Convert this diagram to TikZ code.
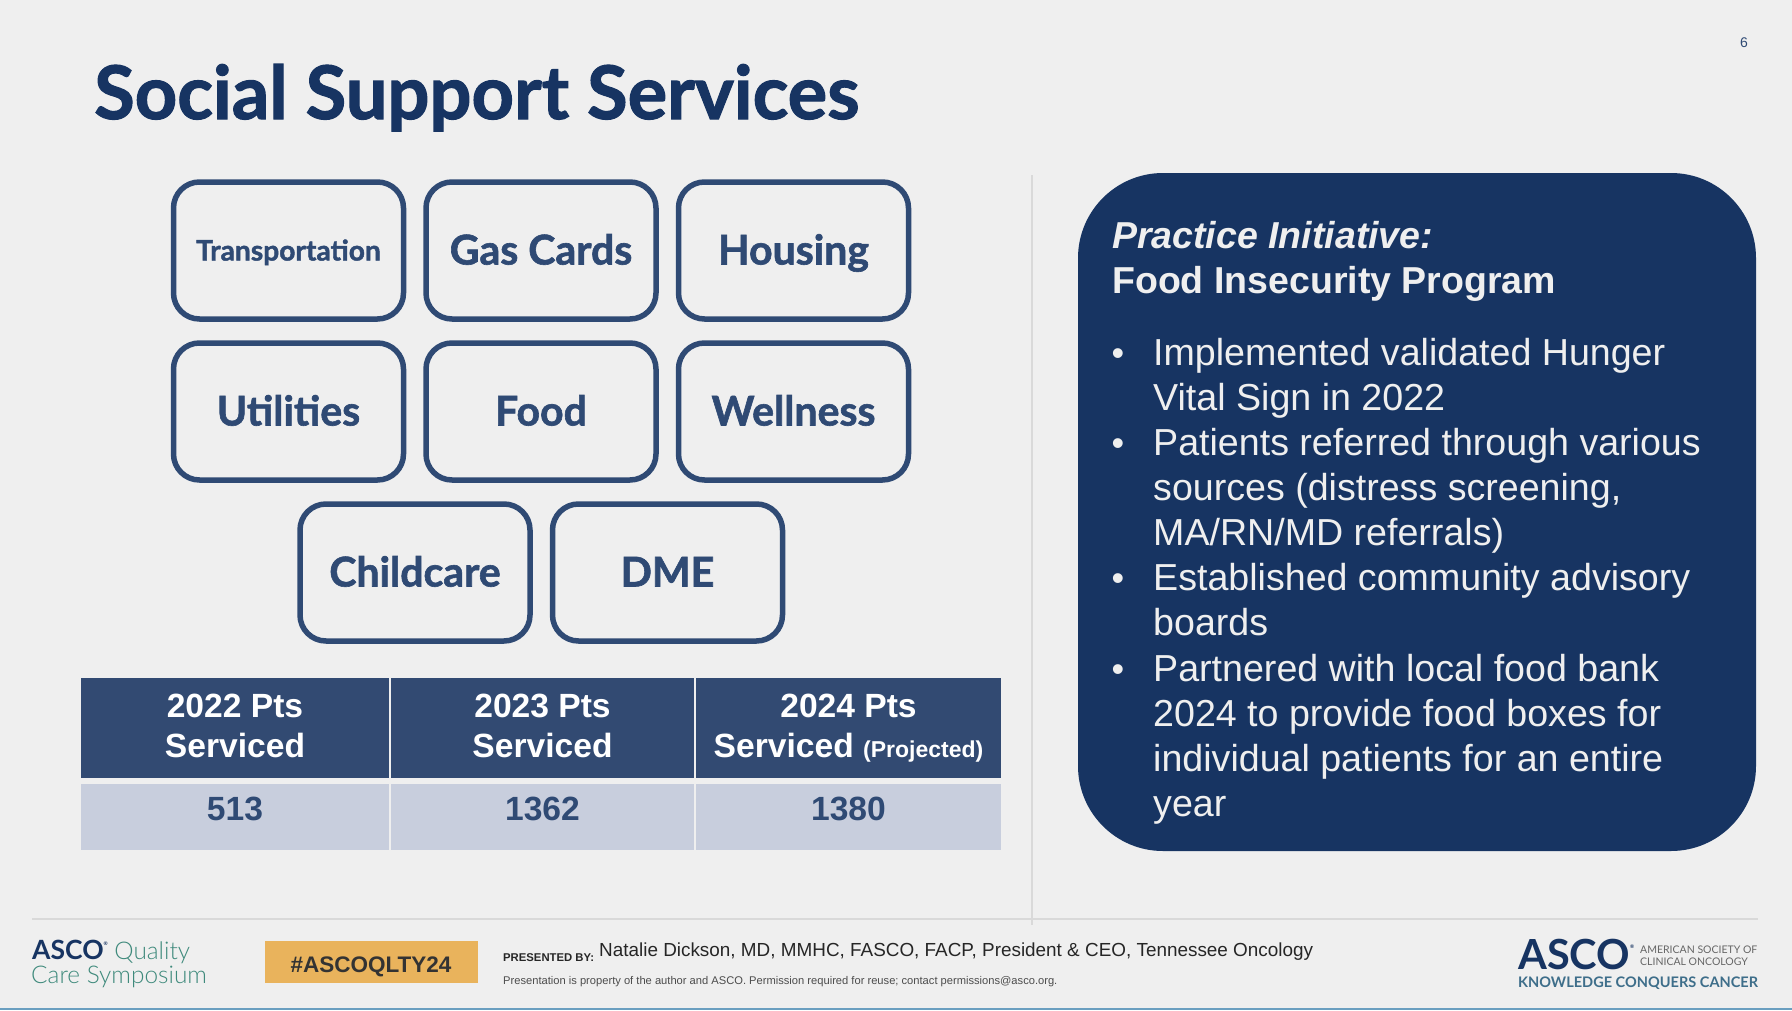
\documentclass[tikz,border=0pt]{standalone}
\usepackage{fontspec}
\setmainfont{Liberation Sans}
\newfontfamily\avenir{Lato}
\newfontfamily\avenirheavy{Lato}[BoldFeatures={FakeBold=1.5}]
\newfontfamily\avenirlight{Lato Light}
\definecolor{slidebg}{HTML}{EFEFEF}
\definecolor{navy}{HTML}{173462}
\definecolor{boxblue}{HTML}{2F4A74}
\definecolor{headblue}{HTML}{324A72}
\definecolor{rowgrey}{HTML}{C8CEDD}
\definecolor{rulegrey}{HTML}{D9D9D9}
\definecolor{tagorange}{HTML}{E9B35C}
\definecolor{asoteal}{HTML}{3F8A7C}
\definecolor{logoteal}{HTML}{3E6E8A}
\definecolor{barblue}{HTML}{6A9FC0}
\newcommand\headdepth{\rule[-5pt]{0pt}{1pt}}
\newcommand\regmark{\raisebox{0.5em}{\fontsize{5}{5}\selectfont ®}}
\tikzset{
  servicebox/.style={draw=boxblue,line width=5.5pt,rounded corners=26pt,minimum width=230pt,minimum height=137pt,inner sep=0pt,text=boxblue,text height=30pt,text depth=2pt,font=\avenirheavy\bfseries\fontsize{41}{41}\selectfont},
  headcell/.style={fill=headblue,minimum height=100pt,inner sep=0pt,text=white,align=center,font=\bfseries\fontsize{33.6}{40}\selectfont},
  datacell/.style={fill=rowgrey,minimum height=66pt,inner sep=0pt},
  datatext/.style={inner sep=0pt,text=boxblue,font=\bfseries\fontsize{33.6}{40}\selectfont},
  paneltext/.style={anchor=base west,inner sep=0pt,text=slidebg,font=\fontsize{37.6}{45}\selectfont},
  paneldot/.style={anchor=base,inner sep=0pt,text=slidebg,font=\fontsize{36}{45}\selectfont},
}
\begin{document}
\begin{tikzpicture}[x=1pt,y=-1pt]
  % Hintergrund
  \fill[slidebg] (0,0) rectangle (1792,1010);
  \useasboundingbox (0,0) rectangle (1792,1010);
  \fill[barblue] (0,1008) rectangle (1792,1010);
  % Linien
  \draw[rulegrey,line width=1.5pt] (1032,175) -- (1032,925);
  \draw[rulegrey,line width=1.5pt] (32,919) -- (1758,919);
  % Titel
  \node[anchor=base west,inner sep=0pt,text=navy,font=\avenirheavy\bfseries\fontsize{74}{74}\selectfont] (title) at (94,119) {Social Support Services};
  \node[inner sep=0pt,text=boxblue,font=\fontsize{14}{14}\selectfont] (pagenum) at (1744,43) {6};
  % Kaesten
  \node[servicebox,text height=22pt,font=\avenirheavy\bfseries\fontsize{28.2}{28}\selectfont] (transport) at (288.5,250.5) {Transportation};
  \node[servicebox] (gas) at (541,250.5) {Gas Cards};
  \node[servicebox] (housing) at (793.5,250.5) {Housing};
  \node[servicebox] (utilities) at (288.5,411.5) {Utilities};
  \node[servicebox] (food) at (541,411.5) {Food};
  \node[servicebox] (wellness) at (793.5,411.5) {Wellness};
  \node[servicebox] (childcare) at (415,572.5) {Childcare};
  \node[servicebox] (dme) at (667.5,572.5) {DME};
  % Tabelle
  \node[headcell,minimum width=308pt] (head22) at (235,728) {2022 Pts\\Serviced\headdepth};
  \node[headcell,minimum width=303pt] (head23) at (542.5,728) {2023 Pts\\Serviced\headdepth};
  \node[headcell,minimum width=305pt] (head24) at (848.5,728) {2024 Pts\\Serviced {\fontsize{23}{23}\selectfont (Projected)}\headdepth};
  \node[datacell,minimum width=308pt] (data22) at (235,817) {};
  \node[datacell,minimum width=303pt] (data23) at (542.5,817) {};
  \node[datacell,minimum width=305pt] (data24) at (848.5,817) {};
  \node[datatext] (val22) at (235,809) {513};
  \node[datatext] (val23) at (542.5,809) {1362};
  \node[datatext] (val24) at (848.5,809) {1380};
  % Feld rechts
  \fill[navy,rounded corners=85pt] (1078,173) rectangle (1756,851);
  \node[paneltext,font=\bfseries\itshape\fontsize{37.5}{45}\selectfont] (lead1) at (1112,248) {Practice Initiative:};
  \node[paneltext,font=\bfseries\fontsize{37.5}{45}\selectfont] (lead2) at (1112,293) {Food Insecurity Program};
  \node[paneldot] (dot1) at (1118,365.5) {•};
  \node[paneltext] (line1) at (1153,365.5) {Implemented validated Hunger};
  \node[paneltext] (line2) at (1153,410.5) {Vital Sign in 2022};
  \node[paneldot] (dot2) at (1118,455.5) {•};
  \node[paneltext] (line3) at (1153,455.5) {Patients referred through various};
  \node[paneltext] (line4) at (1153,500.5) {sources (distress screening,};
  \node[paneltext] (line5) at (1153,545.5) {MA/RN/MD referrals)};
  \node[paneldot] (dot3) at (1118,590.5) {•};
  \node[paneltext] (line6) at (1153,590.5) {Established community advisory};
  \node[paneltext] (line7) at (1153,635.5) {boards};
  \node[paneldot] (dot4) at (1118,681.5) {•};
  \node[paneltext] (line8) at (1153,681.5) {Partnered with local food bank};
  \node[paneltext] (line9) at (1153,726.5) {2024 to provide food boxes for};
  \node[paneltext] (line10) at (1153,771.5) {individual patients for an entire};
  \node[paneltext] (line11) at (1153,816.5) {year};
  % Fusszeile
  \node[anchor=base west,inner sep=0pt,font=\avenirlight\fontsize{24.4}{25}\selectfont] (qual1) at (32,959) {\textcolor{navy}{\avenir\bfseries\fontsize{26.5}{25}\selectfont ASCO\regmark}\textcolor{asoteal}{~Quality}};
  \node[anchor=base west,inner sep=0pt,text=asoteal,font=\avenirlight\fontsize{24.4}{25}\selectfont] (qual2) at (31,983) {Care Symposium};
  \node[fill=tagorange,minimum width=213pt,minimum height=42pt,inner sep=0pt,text=black!80,text height=20pt,text depth=0pt,font=\bfseries\fontsize{22.5}{23}\selectfont] (hashtag) at (371,962) {\#ASCOQLTY24};
  \node[anchor=base west,inner sep=0pt,text=black!85,font=\bfseries\fontsize{11.3}{11}\selectfont] (presby) at (503,961) {PRESENTED BY:};
  \node[anchor=base west,inner sep=0pt,text=black!85,font=\fontsize{18.9}{20}\selectfont] (speaker) at (599,956.5) {Natalie Dickson, MD, MMHC, FASCO, FACP, President \& CEO, Tennessee Oncology};
  \node[anchor=base west,inner sep=0pt,text=black!70,font=\fontsize{11.15}{12}\selectfont] (notice) at (503,984) {Presentation is property of the author and ASCO. Permission required for reuse; contact permissions@asco.org.};
  \node[anchor=base west,inner sep=0pt,text=navy,font=\avenir\bfseries\fontsize{41.5}{42}\selectfont] (asco) at (1518,969) {ASCO\regmark};
  \node[anchor=base west,inner sep=0pt,text=black!60,font=\avenir\fontsize{10.5}{11}\selectfont] (soc1) at (1640,953) {AMERICAN SOCIETY OF};
  \node[anchor=base west,inner sep=0pt,text=black!60,font=\avenir\fontsize{10.5}{11}\selectfont] (soc2) at (1640,965) {CLINICAL ONCOLOGY};
  \node[anchor=base west,inner sep=0pt,text=logoteal,font=\avenir\bfseries\fontsize{14.55}{14}\selectfont] (motto) at (1518,987) {KNOWLEDGE CONQUERS CANCER};
\end{tikzpicture}
\end{document}
